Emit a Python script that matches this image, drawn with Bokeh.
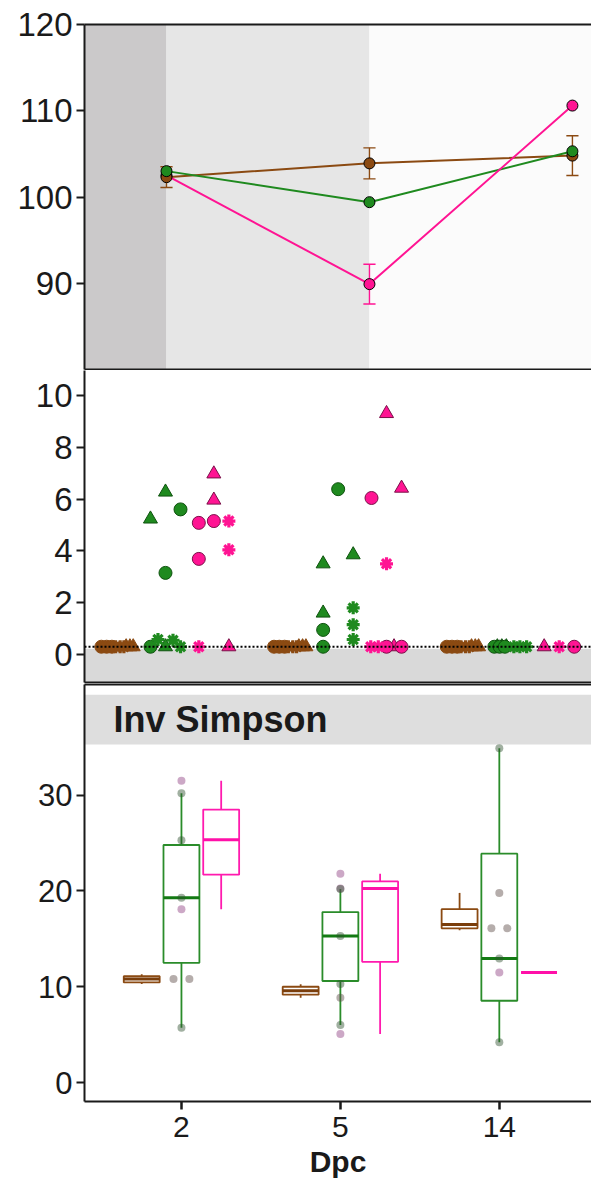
from bokeh.plotting import figure
from bokeh.layouts import column
from bokeh.models import Range1d, FixedTicker, LinearAxis, Span
from bokeh.embed import file_html
from bokeh.resources import INLINE
from bokeh.core.properties import value

FONT = "Liberation Sans"
INK = "#1a1a1a"

# ---------------------------------------------------------------- data
day_labels = ["2", "5", "14"]
day_index = [1, 2, 3]
groups = ["brown", "green", "pink"]

# panel 1: group means with error
top_brown_mean = [102.3, 103.9, 104.8]
top_green_mean = [103.0, 99.4, 105.3]
top_pink_mean = [102.5, 89.9, 110.6]
top_brown_err = [1.2, 1.8, 2.3]
top_green_err = [0.0, 0.0, 0.0]
top_pink_err = [0.0, 2.3, 0.0]

# panel 2: individual values (0.3 = detection limit)
mid_brown_day = [1] * 9 + [2] * 9 + [3] * 9
mid_brown_val = [0.3] * 27
mid_brown_shape = (["circle"] * 3 + ["asterisk"] * 3 + ["triangle"] * 3) * 3
mid_brown_jit = [-1.05, -0.7, -0.35, -0.1, 0.2, 0.45, 0.6, 0.85, 1.07] * 3

mid_green_day = [1] * 9 + [2] * 9 + [3] * 9
mid_green_val = [0.3, 5.23, 6.27, 0.3, 5.6, 3.15, 0.58, 0.55, 0.3,
                 1.6, 3.5, 3.85, 0.3, 0.95, 6.38, 1.8, 1.15, 0.58,
                 0.3, 0.3, 0.3, 0.3, 0.3, 0.3, 0.3, 0.3, 0.3]
mid_green_shape = (["triangle"] * 3 + ["circle"] * 3 + ["asterisk"] * 3) * 3
mid_green_jit = [0.0, -1.0, 0.0, -1.0, 1.0, 0.0, -0.5, 0.5, 1.0,
                 -1.0, -1.0, 1.0, -1.0, -1.0, 0.0, 1.0, 1.0, 1.0,
                 -0.9, -0.6, -0.3, -1.1, -0.75, -0.4, 0.2, 0.6, 1.05]

mid_pink_day = [1] * 9 + [2] * 9 + [3] * 3
mid_pink_val = [5.08, 5.15, 3.69, 6.97, 5.96, 0.3, 5.15, 4.04, 0.3,
                6.04, 0.3, 0.3, 9.3, 6.42, 0.3, 3.5, 0.3, 0.3,
                0.3, 0.3, 0.3]
mid_pink_shape = (["circle"] * 3 + ["triangle"] * 3 + ["asterisk"] * 3) * 2 + \
                 ["triangle", "asterisk", "circle"]
mid_pink_jit = [-1.0, 0.0, -1.0, 0.0, 0.0, 1.0, 1.0, 1.0, -1.0,
                -1.0, 0.0, 1.0, 0.0, 1.0, 0.5, 0.0, -1.05, -0.55,
                -1.0, 0.0, 1.0]

# panel 3: Inv Simpson box statistics
brown_lo = [10.3, 8.85, 15.9]
brown_q1 = [10.45, 9.17, 16.1]
brown_med = [10.8, 9.58, 16.5]
brown_q3 = [11.1, 10.0, 18.1]
brown_hi = [11.3, 10.26, 19.8]

green_lo = [5.73, 6.0, 4.2]
green_q1 = [12.5, 10.6, 8.54]
green_med = [19.3, 15.3, 12.95]
green_q3 = [24.8, 17.8, 23.9]
green_hi = [30.2, 20.2, 34.9]

pink_lo = [18.1, 5.07, 11.5]
pink_q1 = [21.7, 12.6, 11.5]
pink_med = [25.35, 20.25, 11.5]
pink_q3 = [28.5, 21.0, 11.5]
pink_hi = [31.5, 21.8, 11.5]

pts_day = [1, 1, 1, 1, 1, 1, 1, 1,
           2, 2, 2, 2, 2, 2, 2, 2,
           3, 3, 3, 3, 3, 3, 3]
pts_val = [31.5, 18.1, 30.2, 25.3, 19.3, 5.73, 10.8, 10.8,
           21.8, 5.07, 20.25, 20.2, 15.3, 10.3, 6.0, 8.85,
           34.9, 12.95, 4.2, 19.8, 16.1, 16.1, 11.5]
pts_grp = ["pink", "pink", "green", "green", "green", "green", "brown", "brown",
           "pink", "pink", "pink", "green", "green", "green", "green", "brown",
           "green", "green", "green", "brown", "brown", "brown", "pink"]
pts_jit = [0, 0, 0, 0, 0, 0, -1, 1,
           0, 0, 0, 0, 0, 0, 0, 0,
           0, 0, 0, 0, -1, 1, 0]

# ---------------------------------------------------------------- styles
LINE = {"brown": "#8b4a12", "green": "#1f8a1f", "pink": "#ff1493"}
EDGE = {"brown": "#8b4a12", "green": "#0e520e", "pink": "#7a1048"}
BOX = {"brown": "#8b4a12", "green": "#2a8c2a", "pink": "#ff1aae"}
MED = {"brown": "#7a3e0c", "green": "#137a13", "pink": "#ff10a8"}
PTS = {"brown": "#5a4a45", "green": "#2f4f2f", "pink": "#8e3f80"}


def style_left(ax, size):
    ax.axis_line_width = 2
    ax.axis_line_color = INK
    ax.major_tick_line_width = 2
    ax.major_tick_line_color = INK
    ax.major_tick_out = 8
    ax.major_tick_in = 0
    ax.minor_tick_out = 0
    ax.minor_tick_in = 0
    ax.major_label_text_font = FONT
    ax.major_label_text_font_size = size
    ax.major_label_text_color = INK
    ax.major_label_standoff = 4


def frame_line(p, side):
    ax = LinearAxis(ticker=FixedTicker(ticks=[]), axis_line_width=2,
                    axis_line_color=INK, major_tick_out=0, major_tick_in=0,
                    minor_tick_out=0, minor_tick_in=0,
                    major_label_text_font_size="0px", major_label_standoff=0)
    p.add_layout(ax, side)


def base_fig(height, xr, yr, top, bottom):
    p = figure(width=591, height=height, x_range=xr, y_range=yr,
               output_backend="svg", toolbar_location=None, x_axis_type=None,
               min_border_left=84, min_border_right=0,
               min_border_top=top, min_border_bottom=bottom)
    p.outline_line_color = None
    p.grid.visible = False
    p.background_fill_color = "white"
    return p


# ---------------------------------------------------------------- panel 1
x1 = Range1d(0.596, 3.094)
p1 = base_fig(370, x1, Range1d(80, 120), 24, 1)
p1.quad(left=[x1.start, 1, 2], right=[1, 2, x1.end], bottom=80, top=120,
        fill_color=["#cbc9ca", "#e6e6e6", "#fbfbfb"], line_color=None)
style_left(p1.yaxis[0], "33px")
p1.yaxis[0].ticker = FixedTicker(ticks=[90, 100, 110, 120])
frame_line(p1, "above")
frame_line(p1, "below")

top_series = {
    "brown": (top_brown_mean, top_brown_err),
    "green": (top_green_mean, top_green_err),
    "pink": (top_pink_mean, top_pink_err),
}
CAP = 0.03
for g in ["brown", "green", "pink"]:
    mean, _ = top_series[g]
    p1.line(day_index, mean, line_color=LINE[g], line_width=2)
for g in ["brown", "green", "pink"]:
    mean, err = top_series[g]
    xs = [d for d, e in zip(day_index, err) if e > 0]
    lo = [m - e for m, e in zip(mean, err) if e > 0]
    hi = [m + e for m, e in zip(mean, err) if e > 0]
    if xs:
        p1.segment(x0=xs, y0=lo, x1=xs, y1=hi, line_color=LINE[g], line_width=1.4)
        p1.segment(x0=[x - CAP for x in xs], y0=lo, x1=[x + CAP for x in xs],
                   y1=lo, line_color=LINE[g], line_width=1.4)
        p1.segment(x0=[x - CAP for x in xs], y0=hi, x1=[x + CAP for x in xs],
                   y1=hi, line_color=LINE[g], line_width=1.4)
for g in ["pink", "brown", "green"]:
    mean, _ = top_series[g]
    p1.scatter(day_index, mean, marker="circle", size=11,
               fill_color=LINE[g], line_color="black", line_width=1)

# ---------------------------------------------------------------- panel 2
x2 = Range1d(0.531, 3.467)
p2 = base_fig(313, x2, Range1d(-1.08, 10.96), 0, 1)
p2.quad(left=x2.start, right=x2.end, bottom=-1.08, top=0.22,
        fill_color="#d9d9d9", line_color=None)
p2.add_layout(Span(location=0.3, dimension="width", line_color="black",
                   line_width=1.8, line_dash="2 2"))
style_left(p2.yaxis[0], "33px")
p2.yaxis[0].ticker = FixedTicker(ticks=[0, 2, 4, 6, 8, 10])
frame_line(p2, "below")

SLOT = 0.087
DODGE = {"brown": -0.28, "green": 0.0, "pink": 0.28}
mid = {
    "brown": (mid_brown_day, mid_brown_val, mid_brown_shape, mid_brown_jit),
    "green": (mid_green_day, mid_green_val, mid_green_shape, mid_green_jit),
    "pink": (mid_pink_day, mid_pink_val, mid_pink_shape, mid_pink_jit),
}
for g in groups:
    days, vals, shapes, jit = mid[g]
    for shp in ["triangle", "circle", "asterisk"]:
        xs = [d + DODGE[g] + j * SLOT for d, s, j in zip(days, shapes, jit) if s == shp]
        ys = [v for v, s in zip(vals, shapes) if s == shp]
        if not xs:
            continue
        if shp == "asterisk":
            p2.scatter(xs, ys, marker="circle", size=6, fill_color=LINE[g],
                       line_color=None)
            p2.scatter(xs, ys, marker="asterisk", size=13, line_color=LINE[g],
                       line_width=3.2)
        elif shp == "circle":
            p2.scatter(xs, ys, marker="circle", size=13, fill_color=LINE[g],
                       line_color=EDGE[g], line_width=1)
        else:
            p2.scatter(xs, ys, marker="triangle", size=14, fill_color=LINE[g],
                       line_color=EDGE[g], line_width=1)

# ---------------------------------------------------------------- panel 3
x3 = Range1d(0.39, 3.58)
p3 = base_fig(498, x3, Range1d(-1.98, 41.56), 1, 80)
style_left(p3.yaxis[0], "31px")
p3.yaxis[0].ticker = FixedTicker(ticks=[0, 10, 20, 30])
frame_line(p3, "above")

xax = LinearAxis(ticker=FixedTicker(ticks=day_index),
                 major_label_overrides={i: s for i, s in zip(day_index, day_labels)})
xax.axis_line_width = 2
xax.axis_line_color = INK
xax.major_tick_line_width = 2.5
xax.major_tick_line_color = INK
xax.major_tick_out = 8
xax.major_tick_in = 0
xax.minor_tick_out = 0
xax.minor_tick_in = 0
xax.major_label_text_font = FONT
xax.major_label_text_font_size = "30px"
xax.major_label_text_color = INK
xax.major_label_standoff = 7
xax.axis_label = "Dpc"
xax.axis_label_text_font = FONT
xax.axis_label_text_font_size = "30px"
xax.axis_label_text_font_style = "bold"
xax.axis_label_text_color = INK
xax.axis_label_standoff = 5
p3.add_layout(xax, "below")

# facet strip
p3.quad(left=x3.start, right=x3.end, bottom=35.3, top=40.5,
        fill_color="#dedede", line_color=None)
p3.text(x=[0.572], y=[37.95], text=["Inv Simpson"], text_font=value(FONT),
        text_font_size="36px", text_font_style="bold", text_color=INK,
        text_baseline="middle", text_align="left")

BOX_OFF = {"brown": -0.25, "green": 0.0, "pink": 0.25}
HALF = 0.113
stats = {
    "brown": (brown_lo, brown_q1, brown_med, brown_q3, brown_hi),
    "green": (green_lo, green_q1, green_med, green_q3, green_hi),
    "pink": (pink_lo, pink_q1, pink_med, pink_q3, pink_hi),
}
for g in groups:
    lo, q1, med, q3, hi = stats[g]
    xc = [d + BOX_OFF[g] for d in day_index]
    p3.segment(x0=xc, y0=q3, x1=xc, y1=hi, line_color=BOX[g], line_width=1.8)
    p3.segment(x0=xc, y0=q1, x1=xc, y1=lo, line_color=BOX[g], line_width=1.8)
    p3.quad(left=[x - HALF for x in xc], right=[x + HALF for x in xc],
            bottom=q1, top=q3, fill_color="white", line_color=BOX[g],
            line_width=1.8)
    p3.segment(x0=[x - HALF for x in xc], y0=med, x1=[x + HALF for x in xc],
               y1=med, line_color=MED[g], line_width=3)

p3.scatter([d + j * 0.05 for d, j in zip(pts_day, pts_jit)], pts_val,
           marker="circle", size=8,
           fill_color=[PTS[g] for g in pts_grp], fill_alpha=0.45,
           line_color=None)

layout = column(p1, p2, p3, spacing=0)
with open("out.html", "w") as f:
    f.write(file_html(layout, INLINE))
